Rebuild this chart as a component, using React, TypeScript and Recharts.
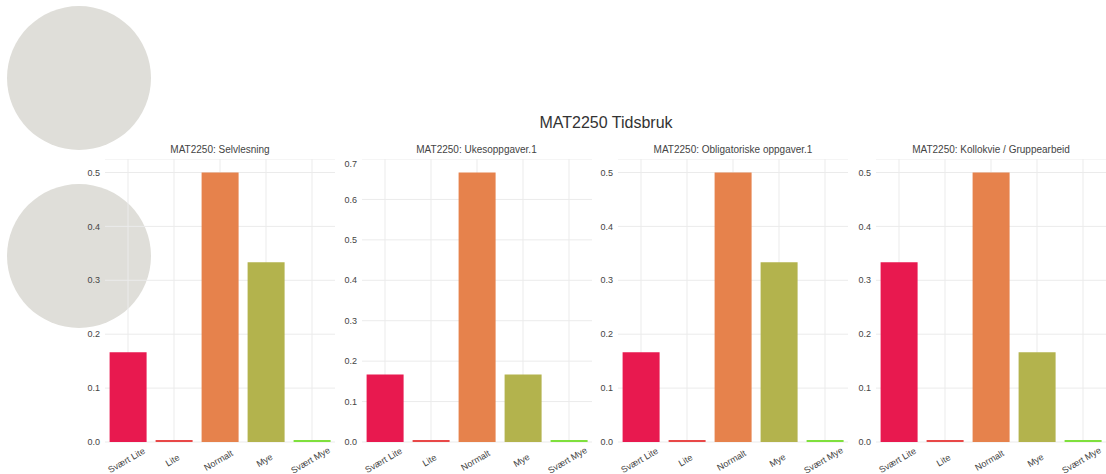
import { BarChart, Bar, XAxis, YAxis, CartesianGrid, Cell } from "recharts";

const categories = ["Svært Lite", "Lite", "Normalt", "Mye", "Svært Mye"];
const barColors = ["#e8194f", "#e84848", "#e6824c", "#b3b34d", "#7fe03d"];

const selvlesning = [0.1667, 0, 0.5, 0.3333, 0];
const ukesoppgaver = [0.1667, 0, 0.6667, 0.1667, 0];
const obligatoriske = [0.1667, 0, 0.5, 0.3333, 0];
const kollokvie = [0.3333, 0, 0.5, 0.1667, 0];

const ticks05 = [0, 0.1, 0.2, 0.3, 0.4, 0.5];
const ticks07 = [0, 0.1, 0.2, 0.3, 0.4, 0.5, 0.6, 0.7];

const panels = [
  { title: "MAT2250: Selvlesning", values: selvlesning, max: 0.525, ticks: ticks05, left: 105 },
  { title: "MAT2250: Ukesoppgaver.1", values: ukesoppgaver, max: 0.7, ticks: ticks07, left: 361.5 },
  { title: "MAT2250: Obligatoriske oppgaver.1", values: obligatoriske, max: 0.525, ticks: ticks05, left: 618 },
  { title: "MAT2250: Kollokvie / Gruppearbeid", values: kollokvie, max: 0.525, ticks: ticks05, left: 876 },
];

const font = "'Liberation Sans', Arial, sans-serif";
const AXIS_W = 24;
const PLOT_W = 230;
const RIGHT = 20;
const PLOT_TOP = 159;
const PLOT_H = 283;

const XTick = (props: any) => {
  const { x, y, payload } = props;
  return (
    <g transform={`translate(${x},${y + 13})`}>
      <text transform="rotate(-30)" textAnchor="middle" fontSize={9} fill="#444" fontFamily={font}>
        {payload.value}
      </text>
    </g>
  );
};

const gridX = categories.map((_, i) => AXIS_W + (PLOT_W * (i + 0.5)) / categories.length);

function Panel({ p }: { p: (typeof panels)[number] }) {
  const data = categories.map((c, i) => ({ name: c, value: p.values[i] }));
  return (
    <div style={{ position: "absolute", left: p.left - AXIS_W, top: PLOT_TOP }}>
      <BarChart
        width={AXIS_W + PLOT_W + RIGHT}
        height={PLOT_H + 32}
        data={data}
        margin={{ top: 0, right: RIGHT, left: 0, bottom: 0 }}
        barCategoryGap="10%"
      >
        <CartesianGrid stroke="#ebebeb" vertical horizontal verticalPoints={gridX} />
        <XAxis dataKey="name" axisLine={false} tickLine={false} interval={0} height={32} tick={<XTick />} />
        <YAxis
          domain={[0, p.max]}
          ticks={p.ticks}
          allowDataOverflow
          axisLine={false}
          tickLine={false}
          width={AXIS_W}
          tickFormatter={(v: number) => v.toFixed(1)}
          tick={{ fontSize: 9, fill: "#444", fontFamily: font, dx: 3 }}
        />
        <Bar dataKey="value" isAnimationActive={false} minPointSize={2}>
          {data.map((d, i) => (
            <Cell key={d.name} fill={barColors[i]} />
          ))}
        </Bar>
      </BarChart>
      <div
        style={{
          position: "absolute",
          left: AXIS_W,
          width: PLOT_W,
          top: -15,
          textAlign: "center",
          fontSize: 10,
          color: "#444",
          fontFamily: font,
          whiteSpace: "nowrap",
        }}
      >
        {p.title}
      </div>
    </div>
  );
}

export default function App() {
  return (
    <div style={{ position: "absolute", left: 0, top: 0, width: 1106, height: 474, background: "#fff", overflow: "hidden" }}>
      <svg width={1106} height={474} style={{ position: "absolute", left: 0, top: 0 }}>
        <circle cx={79} cy={78} r={72} fill="#dfded9" />
        <circle cx={79} cy={256} r={72} fill="#dfded9" />
      </svg>
      <div
        style={{
          position: "absolute",
          left: 0,
          width: 1212,
          top: 114,
          textAlign: "center",
          fontSize: 16,
          color: "#333",
          fontFamily: font,
        }}
      >
        MAT2250 Tidsbruk
      </div>
      {panels.map((p) => (
        <Panel key={p.title} p={p} />
      ))}
    </div>
  );
}
